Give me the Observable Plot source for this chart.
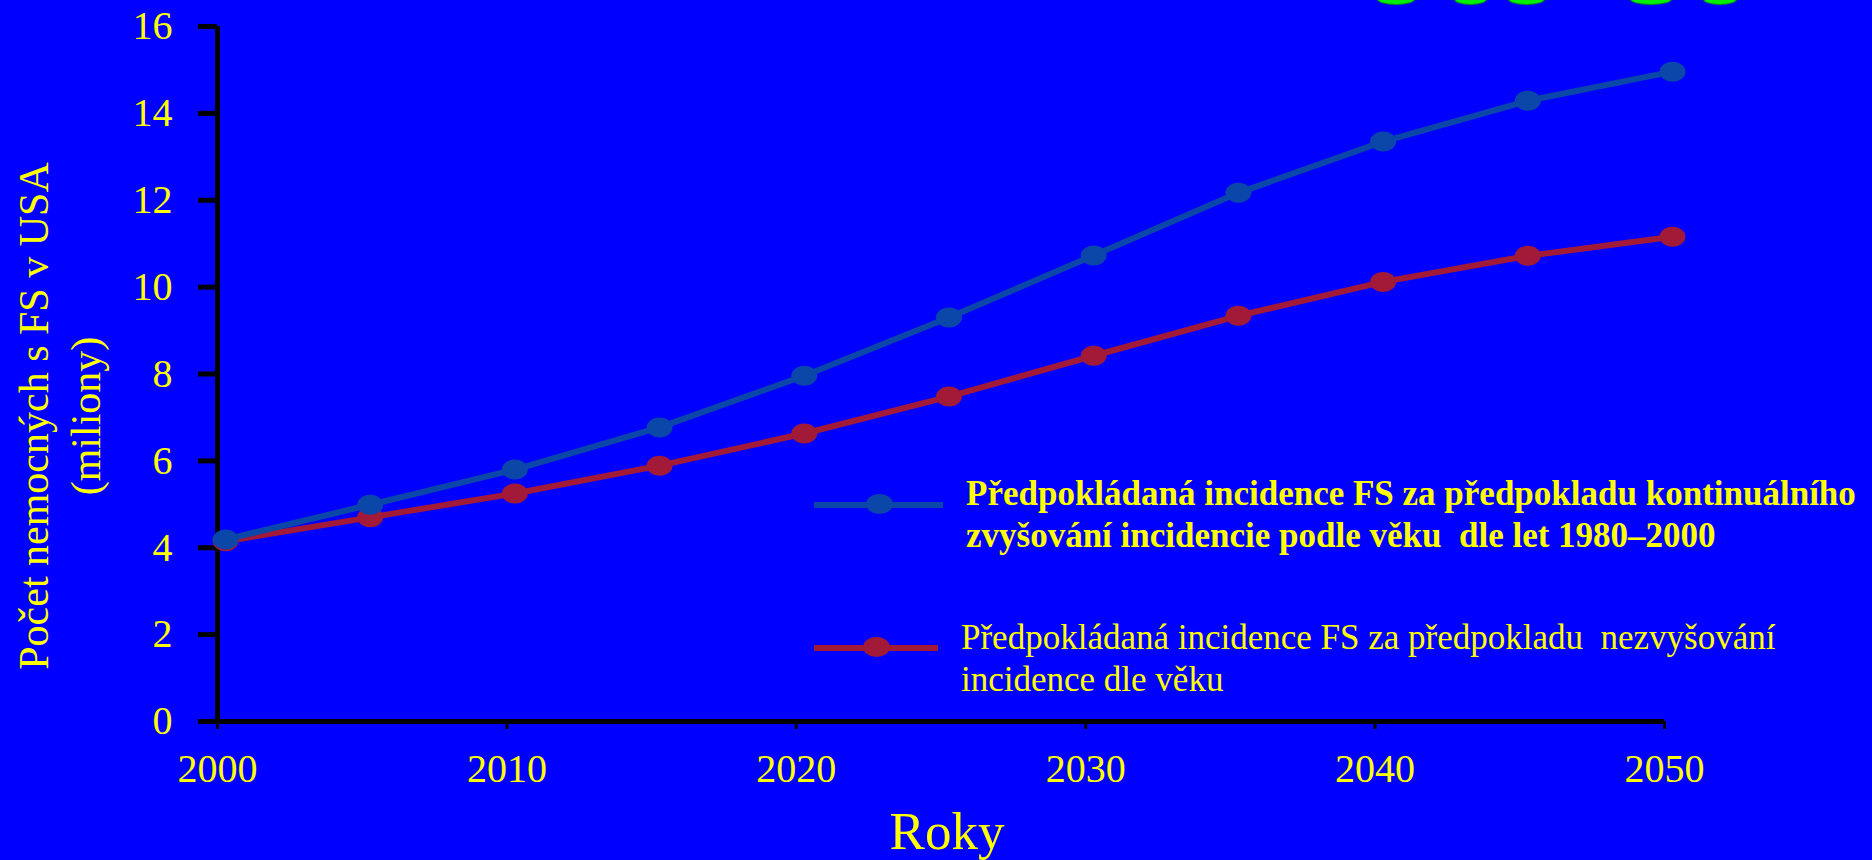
<!DOCTYPE html>
<html>
<head>
<meta charset="utf-8">
<script src="https://cdn.jsdelivr.net/npm/d3@7"></script>
<script src="https://cdn.jsdelivr.net/npm/@observablehq/plot@0.6"></script>
<style>
  html, body { margin: 0; padding: 0; background: #0000ff; }
  #wrap { position: relative; width: 1872px; height: 860px; overflow: hidden; background: #0000ff; }
  .leg { position: absolute; font-family: "Liberation Serif", "Times New Roman", serif; color: #ffff00; font-size: 35px; line-height: 42px; white-space: pre; }
  .legline { position: absolute; height: 6px; }
  .legdot { position: absolute; width: 27px; height: 20px; border-radius: 50%; }
  .blob { position: absolute; top: -6px; height: 10px; border-radius: 50%; background: #00f000; box-shadow: 0 0 1px 1px #00a000; }
</style>
</head>
<body>
<div id="wrap"></div>
<script>
// ---- data ----
const years = [2000, 2005, 2010, 2015, 2020, 2025, 2030, 2035, 2040, 2045, 2050];
const continualIncrease = [4.19, 4.99, 5.80, 6.77, 7.96, 9.30, 10.73, 12.17, 13.35, 14.29, 14.96];
const noIncrease = [4.15, 4.70, 5.25, 5.89, 6.63, 7.48, 8.42, 9.34, 10.12, 10.72, 11.16];
const xTicks = [2000, 2010, 2020, 2030, 2040, 2050];
const yTicks = [0, 2, 4, 6, 8, 10, 12, 14, 16];
const xTitle = "Roky";
const yTitle = "Počet nemocných s FS v USA\n(miliony)";
const legendBlue = "Předpokládaná incidence FS za předpokladu kontinuálního\nzvyšování incidencie podle věku  dle let 1980–2000";
const legendRed = "Předpokládaná incidence FS za předpokladu  nezvyšování\nincidence dle věku";

const BLUE = "#0a47a8";
const RED = "#a21a38";

const blueData = years.map((y, i) => ({year: y, value: continualIncrease[i]}));
const redData = years.map((y, i) => ({year: y, value: noIncrease[i]}));

// ellipse symbol (wider than tall)
const ellipse = {
  draw(ctx, size) {
    const r = Math.sqrt(size / Math.PI);
    const rx = r * 1.3, ry = r, k = 0.5523;
    ctx.moveTo(rx, 0);
    ctx.bezierCurveTo(rx, ry * k, rx * k, ry, 0, ry);
    ctx.bezierCurveTo(-rx * k, ry, -rx, ry * k, -rx, 0);
    ctx.bezierCurveTo(-rx, -ry * k, -rx * k, -ry, 0, -ry);
    ctx.bezierCurveTo(rx * k, -ry, rx, -ry * k, rx, 0);
    ctx.closePath();
  }
};

const font = "Liberation Serif, Times New Roman, serif";

const chart = Plot.plot({
  width: 1872,
  height: 860,
  marginLeft: 217,
  marginRight: 208,
  marginTop: 26,
  marginBottom: 139,
  style: {background: "#0000ff", color: "#ffff00", fontFamily: font, fontSize: "40px", overflow: "visible"},
  x: {domain: [2000, 2050]},
  y: {domain: [0, 16]},
  marks: [
    Plot.axisY({ticks: yTicks, tickSize: 19, tickPadding: 26, stroke: "black", strokeWidth: 5, fill: "#ffff00", fontSize: 40, label: null, tickFormat: d => String(d)}),
    Plot.axisX({ticks: xTicks, tickSize: 8, tickPadding: 24, stroke: "black", strokeWidth: 3, fill: "#ffff00", fontSize: 40, label: null, tickFormat: d => String(d)}),
    Plot.ruleX([2000], {stroke: "black", strokeWidth: 5}),
    Plot.ruleY([0], {stroke: "black", strokeWidth: 5}),
    Plot.line(redData, {x: "year", y: "value", stroke: RED, strokeWidth: 6, dx: 8}),
    Plot.dot(redData, {x: "year", y: "value", fill: RED, r: 10, symbol: ellipse, dx: 8}),
    Plot.line(blueData, {x: "year", y: "value", stroke: BLUE, strokeWidth: 6, dx: 8}),
    Plot.dot(blueData, {x: "year", y: "value", fill: BLUE, r: 10, symbol: ellipse, dx: 8}),
    Plot.text([xTitle], {frameAnchor: "bottom", text: d => d, fontSize: 53, fill: "#ffff00", lineAnchor: "middle", dy: 111, dx: 6}),
    Plot.text([yTitle], {frameAnchor: "left", text: d => d, fontSize: 42, fill: "#ffff00", rotate: -90, textAnchor: "middle", lineAnchor: "middle", lineHeight: 1.24, dx: -160, dy: 42})
  ]
});

const wrap = document.getElementById("wrap");
wrap.appendChild(chart);

function addLegend(color, text, bold, lineTop, lineLeft, lineWidth, dotCx, dotCy, textLeft, textTop) {
  const l = document.createElement("div");
  l.className = "legline";
  Object.assign(l.style, {left: lineLeft + "px", top: lineTop + "px", width: lineWidth + "px", background: color});
  wrap.appendChild(l);
  const d = document.createElement("div");
  d.className = "legdot";
  Object.assign(d.style, {left: (dotCx - 13.5) + "px", top: (dotCy - 10) + "px", background: color});
  wrap.appendChild(d);
  const t = document.createElement("div");
  t.className = "leg";
  t.textContent = text;
  Object.assign(t.style, {left: textLeft + "px", top: textTop + "px", fontWeight: bold ? "bold" : "normal"});
  wrap.appendChild(t);
}
addLegend(BLUE, legendBlue, true, 502, 814, 129, 879, 504, 966, 473);
addLegend(RED, legendRed, false, 645, 814, 124, 876, 647, 961, 617);

// decorative green shapes at the top edge
[[1378, 36], [1455, 31], [1509, 35], [1631, 40], [1704, 32]].forEach(([x, w]) => {
  const b = document.createElement("div");
  b.className = "blob";
  Object.assign(b.style, {left: x + "px", width: w + "px"});
  wrap.appendChild(b);
});
</script>
</body>
</html>
